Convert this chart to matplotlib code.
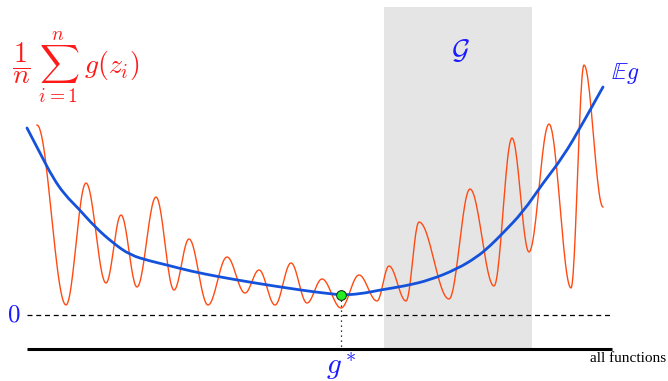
import matplotlib.pyplot as plt
import numpy as np
from matplotlib.path import Path
from matplotlib.patches import PathPatch

plt.rcParams['mathtext.fontset'] = 'cm'

# Bildgroesse in Pixeln
W, H = 668, 381

emp_x = [37, 66, 86, 106, 121, 137, 156, 174, 189, 208, 227, 245, 259, 275, 291,
         307, 322, 341, 359, 377, 389, 406, 419, 449, 470, 494, 512, 529, 549,
         571, 584, 603]
emp_y = [125, 305, 183, 283, 215, 287, 197, 290, 239, 305, 257, 293, 270, 305, 263,
         303, 279, 308, 275, 301, 266, 301, 222, 299, 189, 286, 138, 252, 124,
         288, 65, 207]

# Erwartungswert E g (Kontrollpunkte)
exp_x = [27, 40, 53, 65, 78, 95, 113, 130, 150, 167, 190, 220, 255, 287, 315, 333,
         341, 360, 380, 405, 430, 457, 477, 490, 503, 523, 543, 563, 583, 603]
exp_y = [128, 153, 178, 195, 208, 227, 243, 255, 261, 265, 271, 277, 283, 288, 292, 294,
         295, 294, 290, 286, 280, 269, 257, 246, 233, 212, 183, 157, 123, 87]

g_star = (341, 295)
zero_y = 315
axis_y = 349
axis_x = (27, 612)
G_box = (384, 532, 7)   # links, rechts, oben


def smooth(xs, ys, n=25):
    # Halbkosinus zwischen benachbarten Extrema
    out_x, out_y = [], []
    for i in range(len(xs) - 1):
        t = np.linspace(0, 1, n)
        out_x.extend(xs[i] + (xs[i + 1] - xs[i]) * t)
        out_y.extend(ys[i] + (ys[i + 1] - ys[i]) * (1 - np.cos(np.pi * t)) / 2)
    return out_x, out_y


def spline_path(xs, ys):
    # quadratische Bezier-Kurve: Punkte als Kontrollpunkte, Mittelpunkte auf der Kurve
    pts = list(zip(xs, ys))
    verts = [pts[0]]
    codes = [Path.MOVETO]
    for i in range(1, len(pts) - 1):
        mid = ((pts[i][0] + pts[i + 1][0]) / 2, (pts[i][1] + pts[i + 1][1]) / 2)
        if i == len(pts) - 2:
            mid = pts[-1]
        verts += [pts[i], mid]
        codes += [Path.CURVE3, Path.CURVE3]
    return Path(verts, codes)


fig = plt.figure(figsize=(W / 100, H / 100), dpi=100)
ax = fig.add_axes([0, 0, 1, 1])
ax.set_xlim(0, W)
ax.set_ylim(H, 0)
ax.axis('off')

# Bereich G
ax.fill_between([G_box[0], G_box[1]], G_box[2], axis_y, color='#e5e5e5', lw=0, zorder=0)

# Nulllinie und Achse
ax.plot(axis_x, [zero_y, zero_y], color='black', lw=0.9, ls=(0, (4, 3)), zorder=1)
ax.plot(axis_x, [axis_y, axis_y], color='black', lw=2.2, solid_capstyle='butt', zorder=1)
ax.plot([g_star[0], g_star[0]], [g_star[1], axis_y], color='black', lw=0.9,
        ls=(0, (1, 3)), zorder=1)

rx, ry = smooth(emp_x, emp_y)
ax.plot(rx, ry, color='#ff4a12', lw=1.0, zorder=2)
ax.add_patch(PathPatch(spline_path(exp_x, exp_y), fc='none', ec='#1552dc', lw=2.0,
                       capstyle='round', zorder=3))
ax.plot(*g_star, 'o', ms=7, mfc='#22ee22', mec='#1a3a1a', mew=0.8, zorder=4)

# Beschriftungen
blue = '#1a1aff'
ax.text(14, zero_y, r'$0$', color=blue, fontsize=18, ha='center', va='center')
ax.text(g_star[0], 366, r'$g^*$', color=blue, fontsize=21, ha='center', va='center')
ax.text(460, 50, r'$\mathcal{G}$', color=blue, fontsize=20, ha='center', va='center')
ax.text(611, 73, r'$\mathbb{E}g$', color=blue, fontsize=17, ha='left', va='center')
ax.text(12, 68, r'$\dfrac{1}{n}\;\sum_{i=1}^{n}\;g(z_i)$', color='#ff1a1a', fontsize=20,
        ha='left', va='center')
ax.text(666, 358, 'all functions', family='Liberation Serif', fontsize=11,
        ha='right', va='center')

fig.savefig('out.png', dpi=100)
